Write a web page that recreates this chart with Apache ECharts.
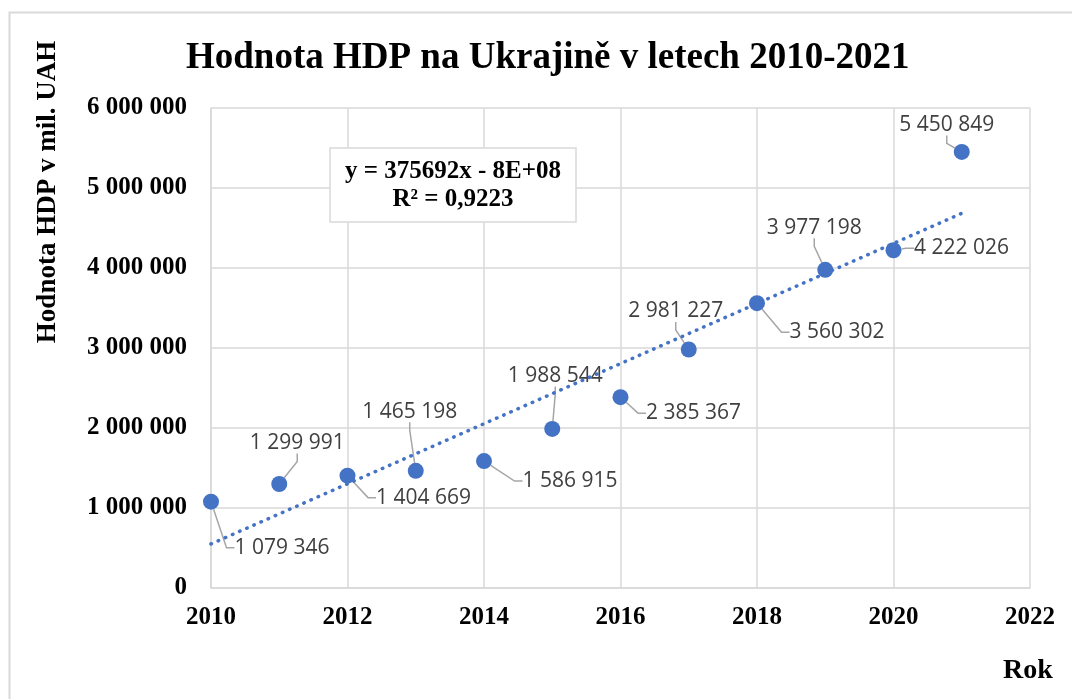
<!DOCTYPE html>
<html>
<head>
<meta charset="utf-8">
<script src="https://cdn.jsdelivr.net/npm/echarts@6/dist/echarts.min.js"></script>
<style>
  html, body { margin: 0; padding: 0; background: #fff; }
  #chart { width: 1072px; height: 699px; }
</style>
</head>
<body>
<div id="chart"></div>
<script>
// data
const years = [2010, 2011, 2012, 2013, 2014, 2015, 2016, 2017, 2018, 2019, 2020, 2021]
const gdp = [1079346, 1299991, 1404669, 1465198, 1586915, 1988544,
  2385367, 2981227, 3560302, 3977198, 4222026, 5450849]
const chartTitle = 'Hodnota HDP na Ukrajině v letech 2010-2021'
const yName = 'Hodnota HDP v mil. UAH'
const xName = 'Rok'
const equation = 'y = 375692x - 8E+08'
const rSquared = 'R² = 0,9223'

// label shifts (px) from each point, layout only
const labelShift = [[71, 46], [18, -41], [76, 22], [-6, -59], [86, 20], [3, -53],
  [73, 16], [-13, -38], [80, 29], [-11, -42], [68, -2], [-15, -27]]

const serif = '"Liberation Serif", "Times New Roman", serif'
const blue = '#4472C4'
const gridGray = '#d9d9d9'

function fmt(v) {
  return String(Math.round(v)).replace(/\B(?=(\d{3})+(?!\d))/g, ' ')
}

// linear trend (least squares)
const n = years.length
const mx = years.reduce((a, b) => a + b, 0) / n
const my = gdp.reduce((a, b) => a + b, 0) / n
let sxy = 0
let sxx = 0
for (let i = 0; i < n; i++) {
  sxy += (years[i] - mx) * (gdp[i] - my)
  sxx += (years[i] - mx) * (years[i] - mx)
}
const slope = sxy / sxx
const icpt = my - slope * mx
const trend = [years[0], years[n - 1]].map(x => [x, icpt + slope * x])

const chart = echarts.init(document.getElementById('chart'))

chart.setOption({
  backgroundColor: '#fff',
  animation: false,
  title: [{
    text: chartTitle,
    left: 181,
    top: 35,
    textStyle: { fontFamily: serif, fontSize: 37, fontWeight: 'bold', color: '#000' }
  }],
  grid: { left: 211, right: 42, top: 108, bottom: 111 },
  xAxis: {
    type: 'value',
    min: 2010,
    max: 2022,
    interval: 2,
    axisLine: { show: true, lineStyle: { color: gridGray, width: 1.5 } },
    axisTick: { show: false },
    splitLine: { show: true, lineStyle: { color: gridGray, width: 1.5 } },
    axisLabel: {
      margin: 17,
      fontFamily: serif,
      fontSize: 25,
      fontWeight: 'bold',
      color: '#000',
      formatter: v => String(v)
    }
  },
  yAxis: {
    type: 'value',
    min: 0,
    max: 6000000,
    interval: 1000000,
    axisLine: { show: true, lineStyle: { color: gridGray, width: 1.5 } },
    axisTick: { show: false },
    splitLine: { show: true, lineStyle: { color: gridGray, width: 1.5 } },
    axisLabel: {
      margin: 24,
      fontFamily: serif,
      fontSize: 25,
      fontWeight: 'bold',
      color: '#000',
      formatter: v => fmt(v)
    }
  },
  graphic: [
    {
      type: 'rect',
      silent: true,
      shape: { x: 9.5, y: 12.5, width: 1080, height: 720 },
      style: { fill: 'none', stroke: gridGray, lineWidth: 2 }
    },
    {
      type: 'text',
      x: 48,
      y: 192,
      rotation: Math.PI / 2,
      style: {
        text: yName,
        x: 0,
        y: 0,
        align: 'center',
        verticalAlign: 'middle',
        font: 'bold 27px ' + serif,
        fill: '#000'
      }
    },
    {
      type: 'text',
      x: 1028,
      y: 671,
      style: {
        text: xName,
        align: 'center',
        verticalAlign: 'middle',
        font: 'bold 28px ' + serif,
        fill: '#000'
      }
    },
    // trendline equation box
    {
      type: 'rect',
      z: 100,
      shape: { x: 330, y: 148, width: 246, height: 74 },
      style: { fill: '#fff', stroke: gridGray, lineWidth: 1.5 }
    },
    {
      type: 'text',
      z: 101,
      x: 453,
      y: 172,
      style: {
        text: equation,
        align: 'center',
        verticalAlign: 'middle',
        font: 'bold 25px ' + serif,
        fill: '#000'
      }
    },
    {
      type: 'text',
      z: 101,
      x: 453,
      y: 200,
      style: {
        text: rSquared,
        align: 'center',
        verticalAlign: 'middle',
        font: 'bold 25px ' + serif,
        fill: '#000'
      }
    }
  ],
  series: [
    {
      name: 'trend',
      type: 'line',
      data: trend,
      symbol: 'none',
      silent: true,
      z: 3,
      lineStyle: {
        color: blue,
        width: 3.5,
        type: [0.5, 7.3],
        cap: 'round'
      }
    },
    {
      name: 'HDP',
      type: 'scatter',
      data: years.map((y, i) => [y, gdp[i]]),
      symbolSize: 16,
      z: 2,
      itemStyle: { color: blue, opacity: 1 },
      label: {
        show: true,
        position: 'inside',
        formatter: p => fmt(p.value[1]),
        fontFamily: '"Open Sans", "Noto Sans", sans-serif',
        fontSize: 21,
        color: '#404040'
      },
      labelLine: {
        show: true,
        length2: 8,
        lineStyle: { color: '#a6a6a6', width: 1.5 }
      },
      labelLayout: p => ({
        dx: labelShift[p.dataIndex][0],
        dy: labelShift[p.dataIndex][1]
      })
    }
  ]
})
</script>
</body>
</html>
